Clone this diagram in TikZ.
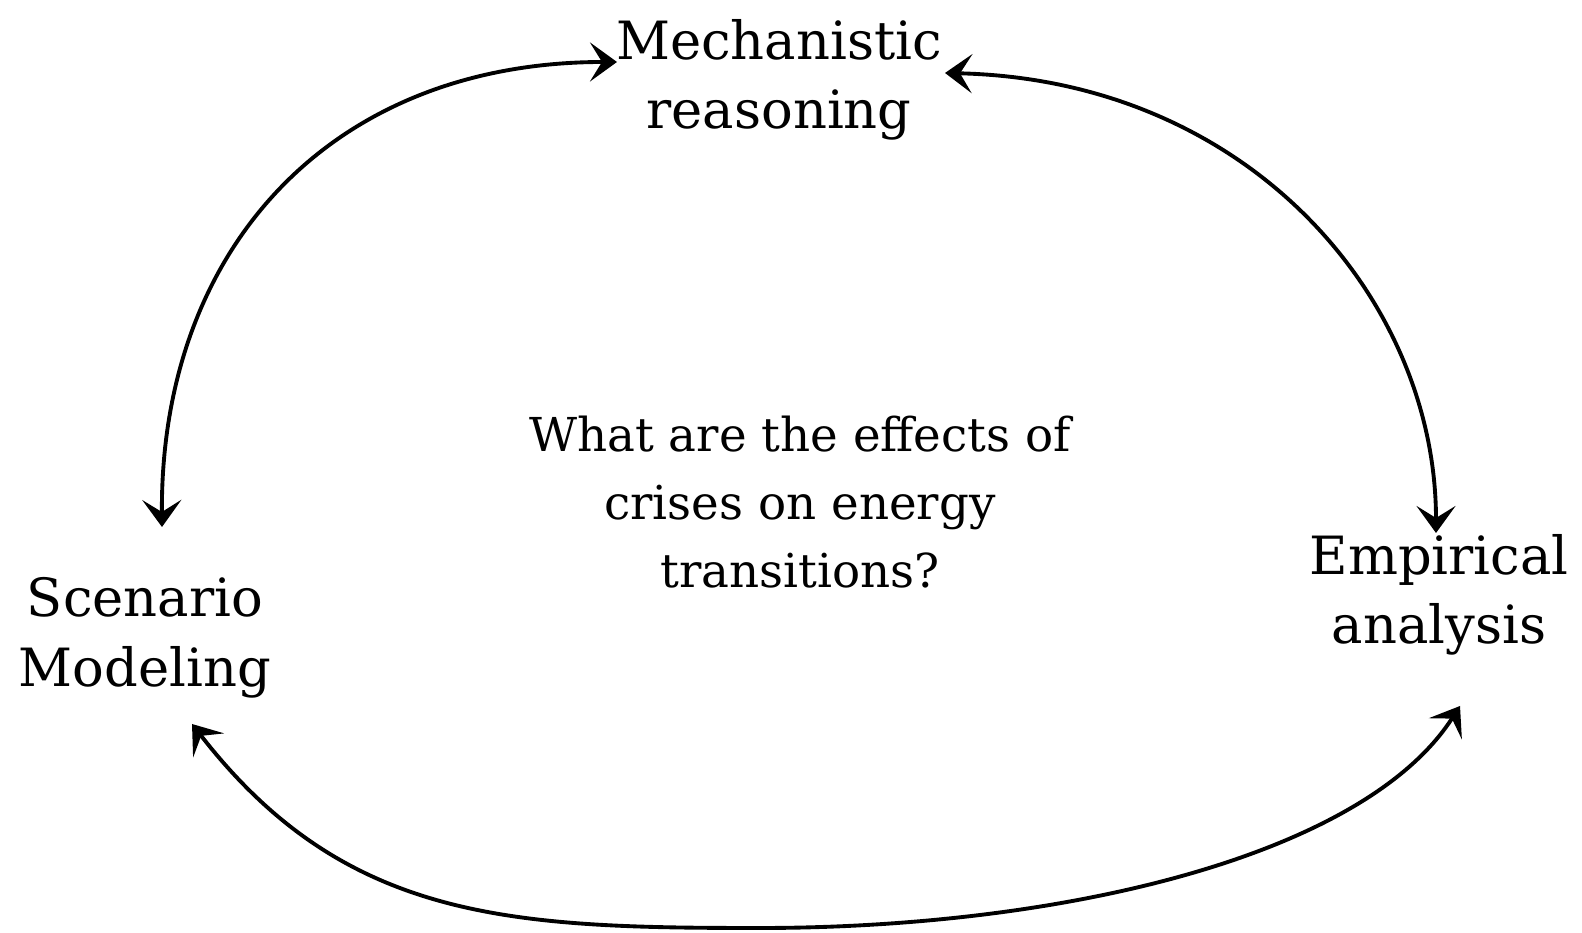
\documentclass[tikz,border=0pt]{standalone}
\usepackage{fontspec}
\setmainfont{DejaVu Serif}
\usetikzlibrary{arrows.meta,positioning}

\begin{document}
\begin{tikzpicture}[
		txt/.style={font=\fontsize{15}{19.8}\selectfont, align=center, inner sep=0pt},
		quest txt/.style={txt, font=\fontsize{13.3}{19.4}\selectfont},
		loop arrow/.style={line width=1.1pt, {Stealth[length=2.7mm,width=3.9mm,inset=1.2mm]}-{Stealth[length=2.7mm,width=3.9mm,inset=1.2mm]}}
	]
		\useasboundingbox (0,0) rectangle (15.82,9.33);
		% the three ways of looking at it
		\node [txt] (mech) at (7.79,8.53) {Mechanistic\\reasoning};
		\node [txt] (scen) at (1.45,2.95) {Scenario\\Modeling};
		\node [txt] (emp) at (14.39,3.38) {Empirical\\analysis};
		\node [quest txt] (quest) at (8.00,4.31) {What are the effects of\\crises on energy\\transitions?};
		% arrow ends
		\coordinate (scen-n) at (1.62,4.06);
		\coordinate (scen-s) at (1.92,2.09);
		\coordinate (mech-w) at (6.17,8.71);
		\coordinate (mech-e) at (9.45,8.60);
		\coordinate (emp-n) at (14.36,4.00);
		\coordinate (emp-s) at (14.60,2.27);
		\coordinate (bottom) at (7.60,0.05);
		\draw [loop arrow] (scen-n) .. controls (1.60,6.83) and (3.30,8.71) .. (mech-w);
		\draw [loop arrow] (mech-e) .. controls (12.50,8.53) and (14.36,6.33) .. (emp-n);
		\draw [loop arrow] (scen-s) .. controls (3.45,0.12) and (5.10,0.05) .. (bottom)
			.. controls (10.60,0.05) and (13.63,0.76) .. (emp-s);
	\end{tikzpicture}
\end{document}
